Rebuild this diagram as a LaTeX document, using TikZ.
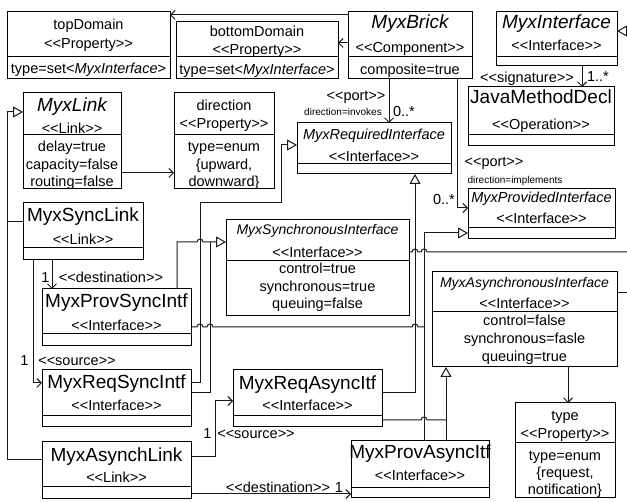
\documentclass[tikz,border=0pt]{standalone}
\usepackage{fontspec}
\setmainfont{Liberation Sans}
\usetikzlibrary{arrows.meta}
\newcommand\st[1]{<{}<#1>{}>}
\newcommand\umlbox[6]{%
  \pgfmathsetmacro\bw{#4-#2}\pgfmathsetmacro\bh{#5-#3}%
  \node[umlbox,minimum width=\bw pt,minimum height=\bh pt] (#1) at ({(#2+#4)/2},{(#3+#5)/2}) {};
  \draw[sepline] (#2,#6) -- (#4,#6);}
\tikzset{
  umlbox/.style={draw=black, line width=1pt, inner sep=0pt, outer sep=0pt, rectangle, fill=white},
  sepline/.style={line width=1pt},
  lnk/.style={line width=1pt, draw=black!90},
  assoc/.style={lnk, -{Straight Barb[length=4.5pt,width=9pt]}},
  genz/.style={lnk, -{Triangle[open,length=10pt,width=11pt,fill=white]}},
  txt/.style={inner sep=0pt, text height=10.4pt, text depth=0pt, font=\fontsize{14.5pt}{16pt}\selectfont},
  txtit/.style={inner sep=0pt, text height=10pt, text depth=0pt, font=\fontsize{14pt}{16pt}\selectfont\itshape},
  txtbig/.style={inner sep=0pt, text height=13.6pt, text depth=0pt, font=\fontsize{19pt}{21pt}\selectfont},
  txtsmall/.style={inner sep=0pt, text height=7.2pt, text depth=0pt, font=\fontsize{10pt}{11pt}\selectfont},
}
\begin{document}
\begin{tikzpicture}[x=1pt,y=-1pt]
\useasboundingbox[fill=white] (0,0) rectangle (627,502);
% boxes
\umlbox{td}{7}{12}{170}{79}{57}
\umlbox{bd}{176}{22}{338}{79}{57}
\umlbox{brick}{348}{12}{472}{79}{57}
\umlbox{mi}{496}{12}{617}{66}{57}
\umlbox{jm}{468}{87}{614}{146}{135}
\umlbox{req}{297}{123}{451}{174}{164}
\umlbox{prov}{468}{189}{615}{239}{228}
\umlbox{sync}{226}{220}{409}{316}{261}
\umlbox{async}{432}{272}{617}{367}{312}
\umlbox{tp}{515}{403}{615}{498}{443}
\umlbox{link}{23}{93}{121}{189}{135}
\umlbox{dir}{174}{93}{274}{189}{135}
\umlbox{slink}{23}{203}{143}{260}{248}
\umlbox{psi}{42}{289}{191}{346}{334}
\umlbox{rsi}{42}{370}{191}{427}{416}
\umlbox{alink}{42}{442}{191}{499}{487}
\umlbox{rai}{233}{370}{382}{427}{416}
\umlbox{pai}{351}{441}{489}{498}{488}
% texts
\node[txt] (td1) at (88.5,24) {topDomain};
\node[txt] (td2) at (88.5,43) {\st{Property}};
\node[txt] (td3) at (88.5,68) {type=set<\textit{MyxInterface}>};
\node[txt] (bd1) at (257,31) {bottomDomain};
\node[txt] (bd2) at (257,49) {\st{Property}};
\node[txt] (bd3) at (257,69) {type=set<\textit{MyxInterface}>};
\node[txtbig] (b1) at (410,22) {\itshape MyxBrick};
\node[txt] (b2) at (410,47) {\st{Component}};
\node[txt] (b3) at (410,69) {composite=true};
\node[txtbig] (mi1) at (556.5,22) {\itshape MyxInterface};
\node[txt] (mi2) at (556.5,45) {\st{Interface}};
\node[txtbig] (jm1) at (541,97) {JavaMethodDecl};
\node[txt] (jm2) at (541,124) {\st{Operation}};
\node[txt] (r1) at (374,134) {\itshape MyxRequiredInterface};
\node[txt] (r2) at (374,156) {\st{Interface}};
\node[txt] (p1) at (541.5,197) {\itshape MyxProvidedInterface};
\node[txt] (p2) at (541.5,218) {\st{Interface}};
\node[txtit] (s1) at (317.5,230) {MyxSynchronousInterface};
\node[txt] (s2) at (317.5,252) {\st{Interface}};
\node[txt] (s3) at (317.5,268) {control=true};
\node[txt] (s4) at (317.5,286) {synchronous=true};
\node[txt] (s5) at (317.5,303) {queuing=false};
\node[txtit] (a1) at (524.5,283) {MyxAsynchronousInterface};
\node[txt] (a2) at (524.5,303) {\st{Interface}};
\node[txt] (a3) at (524.5,320) {control=false};
\node[txt] (a4) at (524.5,338) {synchronous=fasle};
\node[txt] (a5) at (524.5,356) {queuing=true};
\node[txt] (tp1) at (565,415) {type};
\node[txt] (tp2) at (565,433) {\st{Property}};
\node[txt] (tp3) at (565,455) {type=enum};
\node[txt] (tp4) at (565,472) {\{request,};
\node[txt] (tp5) at (565,489) {notification\}};
\node[txtbig] (l1) at (72,105) {\itshape MyxLink};
\node[txt] (l2) at (72,128) {\st{Link}};
\node[txt] (l3) at (72,146) {delay=true};
\node[txt] (l4) at (72,164) {capacity=false};
\node[txt] (l5) at (72,181) {routing=false};
\node[txt] (d1) at (224,105) {direction};
\node[txt] (d2) at (224,123) {\st{Property}};
\node[txt] (d3) at (224,146) {type=enum};
\node[txt] (d4) at (224,164) {\{upward,};
\node[txt] (d5) at (224,181) {downward\}};
\node[txtbig] (sl1) at (83,215) {MyxSyncLink};
\node[txt] (sl2) at (83,239) {\st{Link}};
\node[txtbig] (ps1) at (116.5,301) {MyxProvSyncIntf};
\node[txt] (ps2) at (116.5,325) {\st{Interface}};
\node[txtbig] (rs1) at (116.5,382) {MyxReqSyncIntf};
\node[txt] (rs2) at (116.5,405) {\st{Interface}};
\node[txtbig] (al1) at (116.5,455) {MyxAsynchLink};
\node[txt] (al2) at (116.5,477) {\st{Link}};
\node[txtbig] (ra1) at (307.5,383) {MyxReqAsyncItf};
\node[txt] (ra2) at (307.5,405) {\st{Interface}};
\node[txtbig] (pa1) at (420,452) {MyxProvAsyncItf};
\node[txt] (pa2) at (420,475) {\st{Interface}};
% labels
\node[txt] (lsig) at (527,77) {\st{signature}};
\node[txt] (lsig1) at (598,76) {1..*};
\node[txt] (lport1) at (356,95) {\st{port}};
\node[txtsmall] (ldinv) at (343,112) {direction=invokes};
\node[txt] (lm1) at (404,111) {0..*};
\node[txt] (lport2) at (494,161) {\st{port}};
\node[txtsmall] (ldimp) at (515,180) {direction=implements};
\node[txt] (lm2) at (444,199) {0..*};
\node[txt] (ld1a) at (45.5,277) {1};
\node[txt] (ld1b) at (111,277) {\st{destination}};
\node[txt] (ls1a) at (24.5,360) {1};
\node[txt] (ls1b) at (77,360) {\st{source}};
\node[txt] (ls2a) at (207.5,433) {1};
\node[txt] (ls2b) at (256,433) {\st{source}};
\node[txt] (ld2a) at (278,487) {\st{destination}};
\node[txt] (ld2b) at (339,487) {1};
% coordinates at right edge
\coordinate (e1) at (627,31);
\coordinate (e2) at (627,252);
\coordinate (e3) at (627,293);
% associations
\draw[assoc] (link.east |- 0,173) -- (dir.west |- 0,173);
\draw[assoc] (brick.west |- 0,43) -- (bd.east |- 0,43);
\draw[assoc] (brick.west |- 0,15) -- (td.east |- 0,15);
\draw[assoc] (582,0 |- mi.south) -- (582,0 |- jm.north);
\draw[assoc] (389,0 |- brick.south) -- (389,0 |- req.north);
\draw[assoc] (457,0 |- brick.south) -- (457,208) -- (prov.west |- 0,208);
\draw[assoc] (52,0 |- slink.south) -- (52,0 |- psi.north);
\draw[assoc] (33,0 |- slink.south) -- (33,383) -- (rsi.west |- 0,383);
\draw[assoc] (alink.east |- 0,457) -- (215,457) -- (215,401) -- (rai.west |- 0,401);
\draw[assoc] (alink.east |- 0,494) -- (pai.west |- 0,494);
\draw[assoc] (568,0 |- async.south) -- (568,0 |- tp.north);
% generalizations
\draw[genz] (alink.west |- 0,460) -- (7,460) -- (7,112) -- (link.west |- 0,112);
\draw[lnk] (slink.west |- 0,222) -- (7,222);
\draw[genz] (rai.east |- 0,393) -- (415,393) -- (415,0 |- req.south);
\draw[genz] (rsi.east |- 0,383) -- (200,383) -- (200,203) -- (281,203) -- (281,145) -- (req.west |- 0,145);
\draw[genz] (177,0 |- psi.north) -- (177,242) -- (197,242) arc[start angle=180,end angle=0,radius=3pt] -- (sync.west |- 0,242);
\draw[lnk] (rsi.east |- 0,393) -- (210,393) -- (210,242);
\draw[genz] (424,0 |- pai.north) -- (424,233) -- (prov.west |- 0,233);
\draw[lnk] (psi.east |- 0,327) -- (197,327) arc[start angle=180,end angle=0,radius=3pt]
  -- (207,327) arc[start angle=180,end angle=0,radius=3pt]
  -- (412,327) arc[start angle=180,end angle=0,radius=3pt] -- (424,327);
\draw[genz] (446,0 |- pai.north) -- (446,0 |- async.south);
\draw[lnk] (rai.east |- 0,420) -- (421,420) arc[start angle=180,end angle=0,radius=3pt] -- (446,420);
\draw[genz] (e1) -- (mi.east |- e1);
\draw[lnk] (sync.east |- e2) -- (412,252) arc[start angle=180,end angle=0,radius=3pt]
  -- (421,252) arc[start angle=180,end angle=0,radius=3pt] -- (e2);
\draw[lnk] (async.east |- e3) -- (e3);
\end{tikzpicture}
\end{document}
